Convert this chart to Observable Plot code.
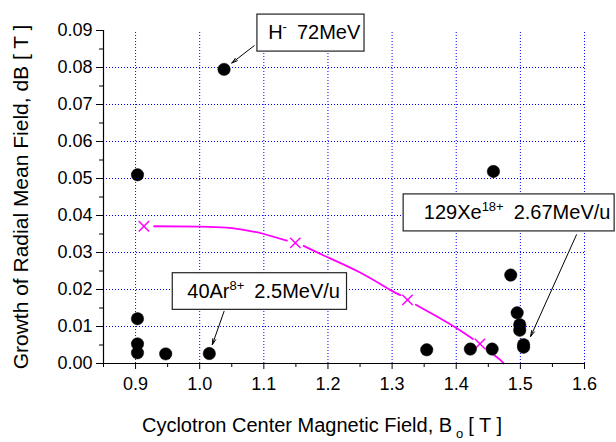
<!DOCTYPE html>
<html><head><meta charset="utf-8">
<script src="https://cdn.jsdelivr.net/npm/d3@7"></script>
<script src="https://cdn.jsdelivr.net/npm/@observablehq/plot@0.6"></script>
<style>
body{margin:0;background:#fff}
svg{font-family:"Liberation Sans",Arial,sans-serif}
</style>
</head><body><div id="chart"></div>
<script>
// Axis ticks
const xTicks = [0.9, 1.0, 1.1, 1.2, 1.3, 1.4, 1.5, 1.6];
const xMinor = [0.85, 0.95, 1.05, 1.15, 1.25, 1.35, 1.45, 1.55];
const yTicks = [0, 0.01, 0.02, 0.03, 0.04, 0.05, 0.06, 0.07, 0.08, 0.09];
const yMinor = [0.005, 0.015, 0.025, 0.035, 0.045, 0.055, 0.065, 0.075, 0.085];
const yGrid = [0.01, 0.02, 0.03, 0.04, 0.05, 0.06, 0.07, 0.08];

// Measured cyclotrons (black dots)
const pointB  = [0.903, 1.038, 0.903, 0.903, 0.903, 0.947, 1.015, 1.354, 1.422, 1.456, 1.458, 1.485, 1.495, 1.499, 1.499, 1.505, 1.505];
const pointDB = [0.0510, 0.0795, 0.0121, 0.0053, 0.0029, 0.0026, 0.0027, 0.0037, 0.0039, 0.0039, 0.0519, 0.0239, 0.0137, 0.0105, 0.0090, 0.0051, 0.0044];

// Magenta series markers
const markB  = [0.913, 1.149, 1.324, 1.437];
const markDB = [0.0371, 0.0326, 0.0172, 0.0053];

// Magenta fitted curve (segments broken around markers)
const curveB   = [0.929, 1.000, 1.042, 1.079, 1.100, 1.136,  1.162, 1.196, 1.250, 1.297, 1.313,  1.337, 1.370, 1.399, 1.426,  1.447, 1.469, 1.474];
const curveDB  = [0.0371, 0.0370, 0.0367, 0.0358, 0.0350, 0.0332,  0.0318, 0.0290, 0.0246, 0.0199, 0.0185,  0.0159, 0.0127, 0.0097, 0.0066,  0.0040, 0.0009, 0.0000];
const curveSeg = [1, 1, 1, 1, 1, 1,  2, 2, 2, 2, 2,  3, 3, 3, 3,  4, 4, 4];

// Annotations
const annBase = ["H", "40Ar", "129Xe"];
const annSup  = ["-", "8+", "18+"];
const annRest = ["72MeV", "2.5MeV/u", "2.67MeV/u"];
const annTextX = [1.1067, 0.9806, 1.3494];
const annTextY = [0.0893, 0.01946, 0.0407];
const boxX1 = [1.090, 0.958, 1.318];
const boxX2 = [1.257, 1.2297, 1.647];
const boxY1 = [0.0843, 0.0145, 0.0357];
const boxY2 = [0.0943, 0.0244, 0.0457];
const arrowX1 = [1.085, 1.038, 1.5875];
const arrowY1 = [0.0859, 0.0141, 0.0348];
const arrowX2 = [1.050, 1.0197, 1.516];
const arrowY2 = [0.0812, 0.0051, 0.0073];

const points = pointB.map((b, i) => ({b, db: pointDB[i]}));
const markers = markB.map((b, i) => ({b, db: markDB[i]}));
const curve = curveB.map((b, i) => ({b, db: curveDB[i], seg: curveSeg[i]}));
const anns = annBase.map((t, i) => ({
  base: t, sup: annSup[i], rest: annRest[i],
  tx: annTextX[i], ty: annTextY[i],
  x1: boxX1[i], x2: boxX2[i], y1: boxY1[i], y2: boxY2[i],
  ax1: arrowX1[i], ay1: arrowY1[i], ax2: arrowX2[i], ay2: arrowY2[i]
}));

const gridStyle = {stroke: "#0000ff", strokeOpacity: 1, strokeWidth: 1, strokeDasharray: "1,2"};

const chart = Plot.plot({
  width: 616, height: 442,
  marginLeft: 103, marginRight: 32, marginTop: 30, marginBottom: 79,
  x: {domain: [0.85, 1.6]},
  y: {domain: [0, 0.09]},
  style: {fontFamily: "'Liberation Sans', Arial, sans-serif", fontSize: "18px", color: "#000", background: "#fff", overflow: "visible"},
  marks: [
    Plot.gridX(xTicks, {...gridStyle, y1: 0, y2: 0.09}),
    Plot.gridY(yGrid, {...gridStyle, x1: 0.85, x2: 1.6}),
    Plot.line(curve, {x: "b", y: "db", z: "seg", stroke: "#ff00ff", strokeWidth: 1.8, curve: "natural"}),
    Plot.dot(markers, {x: "b", y: "db", symbol: "times", r: 4.8, stroke: "#ff00ff", strokeWidth: 1.5}),
    Plot.dot(points, {x: "b", y: "db", r: 6.2, fill: "#000", stroke: "#000", strokeWidth: 0.5}),
    Plot.ruleX([0.85], {y1: 0, y2: 0.09, stroke: "#000", strokeWidth: 1.2}),
    Plot.ruleY([0], {x1: 0.85, x2: 1.6, stroke: "#000", strokeWidth: 1.2}),
    Plot.axisX(xTicks, {tickSize: 6, tickPadding: 8, tickFormat: d => d.toFixed(1), label: null, fontSize: 18}),
    Plot.axisX(xMinor, {tickSize: 4, tickFormat: () => "", label: null}),
    Plot.axisY(yTicks, {tickSize: 7, tickPadding: 4, tickFormat: d => d.toFixed(2), label: null, fontSize: 18}),
    Plot.axisY(yMinor, {tickSize: 4, tickFormat: () => "", label: null}),
    Plot.arrow(anns, {x1: "ax1", y1: "ay1", x2: "ax2", y2: "ay2", stroke: "#000", strokeWidth: 1, headLength: 9, headAngle: 30}),
    Plot.rect(anns, {x1: "x1", x2: "x2", y1: "y1", y2: "y2", fill: "#fff", stroke: "#222", strokeWidth: 1.2}),
    Plot.text(anns, {x: "tx", y: "ty", text: "base", textAnchor: "start", fontSize: 20, fill: "#000", className: "ann"}),
    Plot.text(["Cyclotron Center Magnetic Field, B"], {frameAnchor: "bottom", dy: 68, dx: -22, fontSize: 20, fill: "#000", className: "xtitle"}),
    Plot.text(["Growth of Radial Mean Field, dB [ T ]"], {frameAnchor: "left", textAnchor: "middle", dx: -82, rotate: -90, fontSize: 21, fill: "#000"})
  ]
});
document.getElementById("chart").appendChild(chart);

// Superscripts in annotation boxes
d3.select(chart).selectAll("g.ann text").each(function(_, i) {
  const a = anns[i];
  const t = d3.select(this);
  t.text(null);
  t.append("tspan").text(a.base);
  t.append("tspan").attr("font-size", 13).attr("dy", -8).text(a.sup);
  t.append("tspan").attr("dy", 8).attr("dx", 10).text(a.rest);
});
// Subscript in x title
d3.select(chart).selectAll("g.xtitle text").each(function() {
  const t = d3.select(this);
  const s = t.text();
  t.text(null);
  t.append("tspan").text(s);
  t.append("tspan").attr("font-size", 13).attr("dx", 4).attr("dy", 6).text("o");
  t.append("tspan").attr("dy", -6).attr("dx", 5).text("[ T ]");
});
</script>
</body></html>
